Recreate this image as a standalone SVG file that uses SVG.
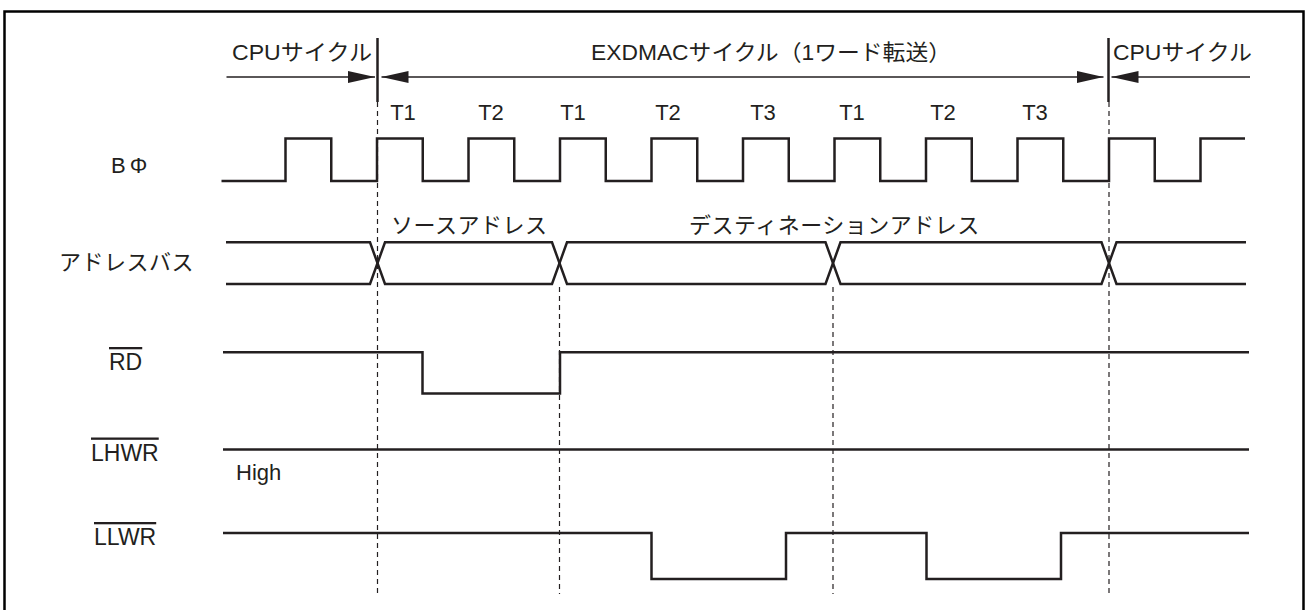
<svg xmlns="http://www.w3.org/2000/svg" width="1308" height="610" viewBox="0 0 1308 610">
<style>
text{font-family:"Liberation Sans","Noto Sans CJK JP",sans-serif;font-size:22px;fill:#231f20}
.sig{fill:none;stroke:#231f20;stroke-width:2.5;stroke-linejoin:miter}
.dash{fill:none;stroke:#231f20;stroke-width:1.2;stroke-dasharray:5,4}
.sep{stroke:#231f20;stroke-width:2.5}
.arr{stroke:#231f20;stroke-width:1.6;fill:none}
.ov{text-decoration:overline;font-size:23px}
.ks{letter-spacing:0.5px}
</style>
<defs>
<marker id="ah" markerUnits="userSpaceOnUse" markerWidth="28" markerHeight="14" refX="27" refY="6" orient="auto-start-reverse">
<path d="M0,0 L27,6 L0,12 z" fill="#231f20"/>
</marker>
</defs>
<rect x="0" y="0" width="1308" height="610" fill="#ffffff"/>
<path d="M4.5,625 V11.5 H1303.5 V625" fill="none" stroke="#000" stroke-width="2.5"/>

<g id="header">
<text x="232" y="60" textLength="140" lengthAdjust="spacingAndGlyphs">CPUサイクル</text>
<text x="591" y="60" textLength="360" lengthAdjust="spacingAndGlyphs">EXDMACサイクル（1ワード転送）</text>
<text x="1113" y="60" textLength="139" lengthAdjust="spacingAndGlyphs">CPUサイクル</text>
</g>

<g id="connectors">
<line class="sep" x1="377.5" y1="38" x2="377.5" y2="102"/>
<line class="sep" x1="1108.5" y1="38" x2="1108.5" y2="102"/>
<line class="arr" x1="226.5" y1="77" x2="375" y2="77" marker-end="url(#ah)"/>
<line class="arr" x1="381.5" y1="77" x2="1103.5" y2="77" marker-start="url(#ah)" marker-end="url(#ah)"/>
<line class="arr" x1="1250" y1="77" x2="1111.5" y2="77" marker-end="url(#ah)"/>
<line class="dash" x1="377.5" y1="102" x2="377.5" y2="594"/>
<line class="dash" x1="559.5" y1="287" x2="559.5" y2="594"/>
<line class="dash" x1="833" y1="287" x2="833" y2="594"/>
<line class="dash" x1="1109" y1="102" x2="1109" y2="594"/>
</g>

<g id="tlabels">
<text x="403" y="120" text-anchor="middle">T1</text>
<text x="491" y="120" text-anchor="middle">T2</text>
<text x="573" y="120" text-anchor="middle">T1</text>
<text x="668" y="120" text-anchor="middle">T2</text>
<text x="763" y="120" text-anchor="middle">T3</text>
<text x="852" y="120" text-anchor="middle">T1</text>
<text x="943" y="120" text-anchor="middle">T2</text>
<text x="1035" y="120" text-anchor="middle">T3</text>
</g>

<g id="clock">
<text x="111" y="173">B<tspan dx="4">Φ</tspan></text>
<path class="sig" d="M221.5,181 H285.5 V138.5 H331.25 V181 H377 V138.5 H422.75 V181 H468.5 V138.5 H514.25 V181 H560 V138.5 H605.75 V181 H651.5 V138.5 H697.25 V181 H743 V138.5 H788.75 V181 H834.5 V138.5 H880.25 V181 H926 V138.5 H971.75 V181 H1017.5 V138.5 H1063.25 V181 H1109 V138.5 H1154.75 V181 H1200.5 V138.5 H1245"/>
</g>

<g id="addressbus">
<text x="59" y="270" class="ks">アドレスバス</text>
<text x="391" y="233" class="ks">ソースアドレス</text>
<text x="689" y="233" class="ks">デスティネーションアドレス</text>
<path class="sig" d="M226,242.3 H370 L385,284 H552 L567,242.3 H825.5 L840.5,284 H1101.5 L1116.5,242.3 H1246"/>
<path class="sig" d="M226,284 H370 L385,242.3 H552 L567,284 H825.5 L840.5,242.3 H1101.5 L1116.5,284 H1246"/>
</g>

<g id="rd">
<text x="109" y="370" class="ov">RD</text>
<path class="sig" d="M223,352.3 H422.5 V393.5 H560 V352.3 H1249"/>
</g>

<g id="lhwr">
<text x="91" y="460.5" class="ov">LHWR</text>
<text x="236" y="480">High</text>
<path class="sig" d="M223,449.5 H1249"/>
</g>

<g id="llwr">
<text x="94" y="545" class="ov">LLWR</text>
<path class="sig" d="M223,533 H651.5 V579 H786 V533 H926.5 V579 H1061 V533 H1249"/>
</g>
</svg>
